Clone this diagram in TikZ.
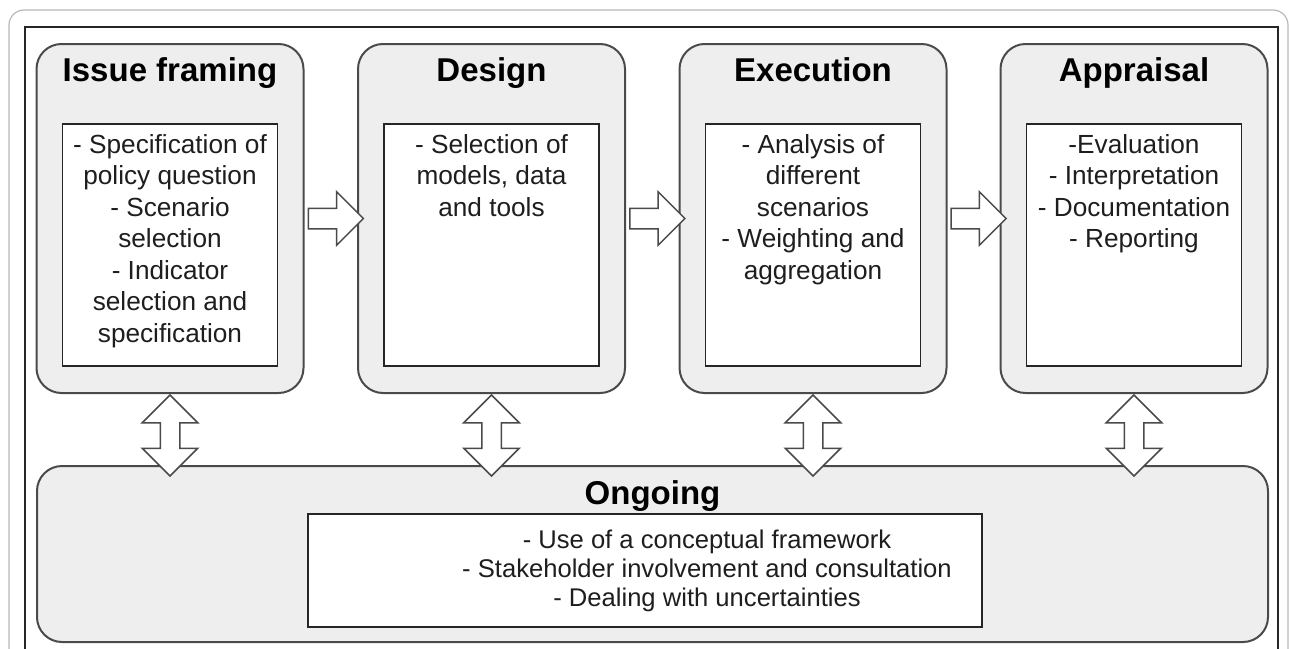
\documentclass[tikz,border=0pt]{standalone}
\usepackage{fontspec}
\setmainfont{Liberation Sans}
\usetikzlibrary{calc,shapes.arrows}
\definecolor{stagefill}{HTML}{EEEEEE}
\definecolor{edge}{HTML}{4A4A4A}
\definecolor{ink}{HTML}{1E1E1E}
\begin{document}
\begin{tikzpicture}[x=1pt,y=-1pt,
  stagebox/.style={draw=edge, line width=2pt, fill=stagefill, rounded corners=25pt,
    minimum width=267pt, minimum height=349pt, inner sep=0pt},
  listbox/.style={draw=black!85, line width=1.8pt, fill=white,
    minimum width=215pt, minimum height=242pt, inner sep=0pt},
  stagetitle/.style={anchor=base, font=\fontsize{33}{38}\selectfont\bfseries, inner sep=0pt},
  listtext/.style={anchor=north, align=center, text=ink,
    font=\fontsize{26.2}{31.5}\selectfont, inner sep=0pt},
  flowarrow/.style={single arrow, draw=edge, fill=white, line width=1.5pt,
    inner xsep=0pt, inner ysep=9.5pt, single arrow head extend=16.5pt,
    single arrow tip angle=90, minimum height=55pt},
  linkarrow/.style={double arrow, draw=edge, fill=white, line width=1.5pt, rotate=90,
    inner xsep=0pt, inner ysep=9pt, double arrow head extend=18pt,
    double arrow tip angle=90, minimum height=81pt},
]
\useasboundingbox (0,0) rectangle (1289,648);

% page frames
\begin{scope}
  \clip (0,0) rectangle (1289,648);
  \draw[gray!55, line width=1.2pt, rounded corners=15pt] (9,10) rectangle (1288,720);
  \draw[black!85, line width=1.8pt] (25,27) rectangle (1278,720);
\end{scope}

% stage boxes
\node[stagebox] (issue)  at (170,218.5)   {};
\node[stagebox] (design) at (491.5,218.5) {};
\node[stagebox] (exec)   at (813,218.5)   {};
\node[stagebox] (appr)   at (1134,218.5)  {};

\node[stagetitle] (issuetitle)  at ($(issue.north)+(0,38.5)$)  {Issue framing};
\node[stagetitle] (designtitle) at ($(design.north)+(0,38.5)$) {Design};
\node[stagetitle] (exectitle)   at ($(exec.north)+(0,38.5)$)   {Execution};
\node[stagetitle] (apprtitle)   at ($(appr.north)+(0,38.5)$)   {Appraisal};

\node[listbox] (issuelist)  at ($(issue.north)+(0,202)$)  {};
\node[listbox] (designlist) at ($(design.north)+(0,202)$) {};
\node[listbox] (execlist)   at ($(exec.north)+(0,202)$)   {};
\node[listbox] (apprlist)   at ($(appr.north)+(0,202)$)   {};

\node[listtext] (issuetext) at ($(issuelist.north)+(0,11)$)
  {- Specification of\\policy question\\- Scenario\\selection\\- Indicator\\selection and\\specification};
\node[listtext] (designtext) at ($(designlist.north)+(0,11)$)
  {- Selection of\\models, data\\and tools};
\node[listtext] (exectext) at ($(execlist.north)+(0,11)$)
  {- Analysis of\\different\\scenarios\\- Weighting and\\aggregation};
\node[listtext] (apprtext) at ($(apprlist.north)+(0,11)$)
  {-Evaluation\\- Interpretation\\- Documentation\\- Reporting};

% ongoing activities
\node[draw=edge, line width=2pt, fill=stagefill, rounded corners=25pt,
  minimum width=1231pt, minimum height=176pt, inner sep=0pt] (ongoing) at (652.5,554) {};
\node[stagetitle] (ongoingtitle) at ($(ongoing.north)+(0,39)$) {Ongoing};
\node[draw=black!85, line width=1.8pt, fill=white, minimum width=674pt,
  minimum height=113pt, inner sep=0pt] (ongoinglist) at (645,570.5) {};
\node[anchor=north, align=center, inner sep=0pt, text=ink,
  font=\fontsize{25.6}{28.7}\selectfont] (ongoingtext) at ($(ongoinglist.north)+(62,17)$)
  {- Use of a conceptual framework\\- Stakeholder involvement and consultation\\- Dealing with uncertainties};

% flow between stages
\node[flowarrow] (f1) at ($(issue.east)!0.5!(design.west)$) {};
\node[flowarrow] (f2) at ($(design.east)!0.5!(exec.west)$)  {};
\node[flowarrow] (f3) at ($(exec.east)!0.5!(appr.west)$)    {};

% links to the ongoing activities
\node[linkarrow] (l1) at ($(issue.south)+(0,41.5)$)  {};
\node[linkarrow] (l2) at ($(design.south)+(0,41.5)$) {};
\node[linkarrow] (l3) at ($(exec.south)+(0,41.5)$)   {};
\node[linkarrow] (l4) at ($(appr.south)+(0,41.5)$)   {};
\end{tikzpicture}
\end{document}
